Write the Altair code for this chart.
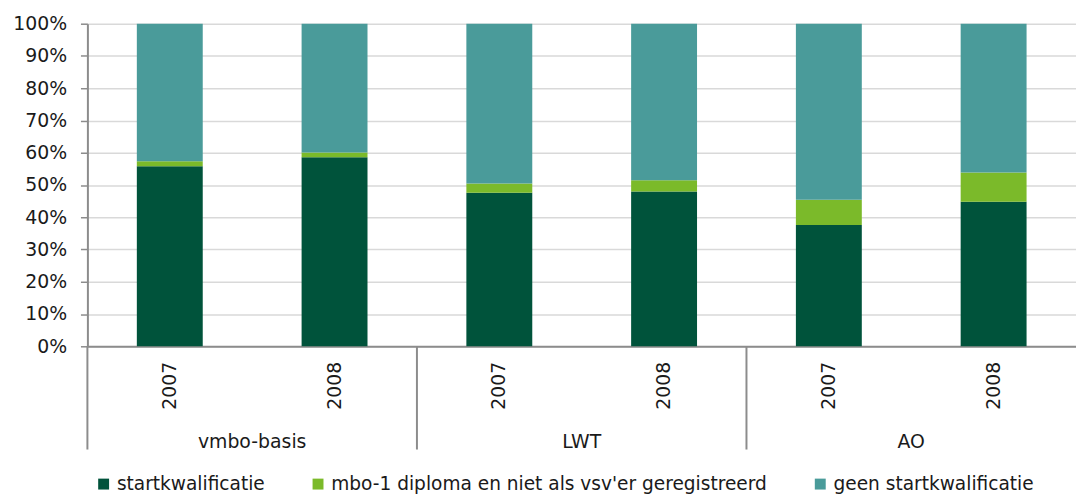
import altair as alt
import pandas as pd

groups = ["vmbo-basis", "LWT", "AO"]
years = ["2007", "2008"]
series = ["startkwalificatie", "mbo-1 diploma en niet als vsv'er geregistreerd", "geen startkwalificatie"]
startkwalificatie = [55.8, 58.6, 47.6, 48.0, 37.6, 44.8]
mbo1 = [1.6, 1.5, 2.9, 3.5, 7.8, 9.1]
geen = [42.6, 39.9, 49.5, 48.5, 54.6, 46.1]
y_ticks = [0, 10, 20, 30, 40, 50, 60, 70, 80, 90, 100]
colors = ["#00533b", "#7bba2a", "#4a9b9a"]
group_index = [0, 1, 2]

W, H = 996, 325
FONT = "DejaVu Sans"
TXT = "#1a1a1a"
AX = "#8c8c8c"
FS = 19

keys = [f"{g}|{y}" for g in groups for y in years]
rows = []
for si, (s, vals) in enumerate(zip(series, [startkwalificatie, mbo1, geen])):
    for k, v in zip(keys, vals):
        rows.append({"key": k, "series": s, "order": si, "value": v})
df = pd.DataFrame(rows)

bars = alt.Chart(df).mark_bar().encode(
    x=alt.X(
        "key:N", sort=keys, title=None,
        scale=alt.Scale(paddingInner=0.6, paddingOuter=0.3),
        axis=alt.Axis(
            labelExpr="split(datum.label, '|')[1]", labelAngle=270, labelFontSize=FS,
            labelPadding=15, ticks=False, tickSize=0, domainColor=AX, domainWidth=2,
            grid=False, labelColor=TXT,
        ),
    ),
    y=alt.Y(
        "value:Q", stack="zero", title=None,
        scale=alt.Scale(domain=[0, 100], nice=False),
        axis=alt.Axis(
            values=y_ticks, labelExpr="datum.value + '%'", labelFontSize=FS,
            labelColor=TXT, tickColor=AX, tickSize=7, tickWidth=1.5, labelPadding=14,
            domainColor=AX, domainWidth=2, gridColor="#d9d9d9", gridWidth=1.5,
        ),
    ),
    color=alt.Color(
        "series:N",
        scale=alt.Scale(domain=series, range=colors),
        legend=alt.Legend(
            title=None, orient="none", legendX=7, legendY=454, direction="horizontal",
            symbolType="square", symbolSize=121, symbolStrokeWidth=0, labelFontSize=18.7,
            labelColor=TXT, columnPadding=44, labelLimit=700, labelOffset=4, padding=0,
        ),
    ),
    order=alt.Order("order:Q", sort="ascending"),
)

gdf = pd.DataFrame({"i": group_index, "group": groups})

rules = alt.Chart(gdf).mark_rule(color=AX, strokeWidth=2).encode(
    x=alt.X("i:Q", scale=alt.Scale(domain=[0, 3], nice=False), axis=None),
    y=alt.value(H),
    y2=alt.value(H + 104),
)

labels = alt.Chart(gdf).transform_calculate(mid="datum.i + 0.5").mark_text(
    fontSize=FS, color=TXT, baseline="middle", align="center"
).encode(
    x=alt.X("mid:Q", scale=alt.Scale(domain=[0, 3], nice=False), axis=None),
    y=alt.value(H + 96),
    text="group:N",
)

chart = alt.layer(bars, rules, labels).resolve_scale(x="independent").properties(
    width=W, height=H,
    padding={"left": 4, "top": 5, "right": 0, "bottom": 0},
).configure(font=FONT).configure_view(stroke=None)

chart.save("out.html", embed_options={"renderer": "svg", "actions": False})
